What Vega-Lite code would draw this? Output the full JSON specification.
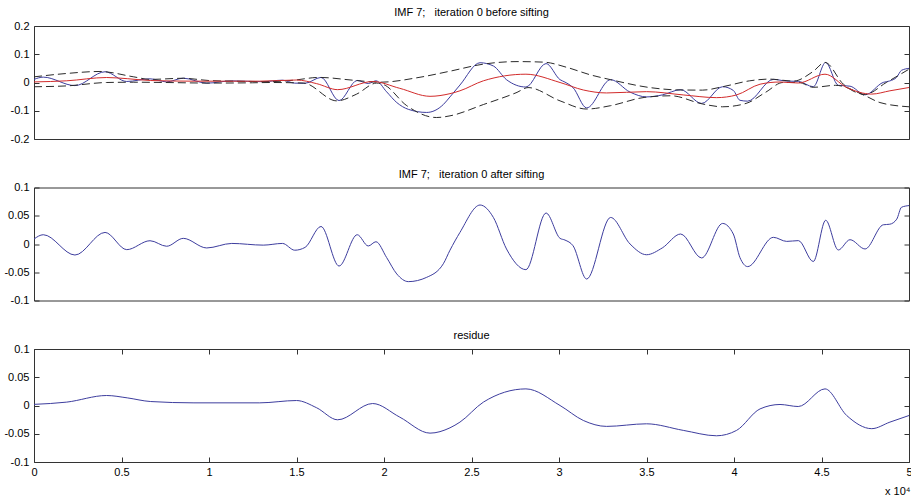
{
  "$schema": "https://vega.github.io/schema/vega-lite/v6.json",
  "background": "white",
  "autosize": {"type": "pad"},
  "padding": {"left": 3, "top": 6, "right": 0, "bottom": 4},
  "config": {
    "font": "Liberation Sans",
    "view": {"stroke": "#333333", "strokeWidth": 1},
    "axis": {
      "domain": false,
      "ticks": false,
      "grid": true,
      "gridColor": "#333333",
      "gridOpacity": 1,
      "gridWidth": 1,
      "title": null,
      "labelFont": "Liberation Sans",
      "labelFontSize": 11,
      "labelColor": "#000000",
      "labelFlush": false,
      "labelOverlap": false
    },
    "axisY": {"gridDash": [5, 865, 5], "labelPadding": 5},
    "axisX": {"gridDash": [5, 103, 5], "labelPadding": 4},
    "title": {"font": "Liberation Sans", "fontSize": 11, "fontWeight": "normal", "color": "#000000", "offset": 2}
  },
  "datasets": {
    "signal": [
      {"t": 0, "v": 0.011}, {"t": 530, "v": 0.019}, {"t": 2340, "v": -0.011}, {"t": 4060, "v": 0.038},
      {"t": 5300, "v": 0.0036}, {"t": 6630, "v": 0.013}, {"t": 7580, "v": 0.0022}, {"t": 8530, "v": 0.0153},
      {"t": 9870, "v": -0.0023}, {"t": 11300, "v": 0.0057}, {"t": 13100, "v": 0.0028}, {"t": 14200, "v": 0.0082},
      {"t": 14900, "v": -0.0023}, {"t": 15490, "v": -0.0027}, {"t": 16400, "v": 0.018}, {"t": 17430, "v": -0.064},
      {"t": 18470, "v": 0.0072}, {"t": 19100, "v": -0.0035}, {"t": 19540, "v": 0.006}, {"t": 20150, "v": -0.033},
      {"t": 20730, "v": -0.071}, {"t": 21390, "v": -0.095}, {"t": 22440, "v": -0.106}, {"t": 23390, "v": -0.078},
      {"t": 23770, "v": -0.051}, {"t": 24340, "v": -0.009}, {"t": 25490, "v": 0.07}, {"t": 26250, "v": 0.0585},
      {"t": 27000, "v": 0.0099}, {"t": 28110, "v": -0.016}, {"t": 29260, "v": 0.067}, {"t": 30060, "v": 0.01},
      {"t": 30340, "v": 0.0014}, {"t": 30800, "v": -0.018}, {"t": 31580, "v": -0.09}, {"t": 32950, "v": 0.01},
      {"t": 34060, "v": -0.034}, {"t": 35000, "v": -0.051}, {"t": 35900, "v": -0.044}, {"t": 36950, "v": -0.0255},
      {"t": 38150, "v": -0.074}, {"t": 39350, "v": -0.015}, {"t": 39960, "v": -0.028}, {"t": 40340, "v": -0.063},
      {"t": 40780, "v": -0.066}, {"t": 42250, "v": 0.011}, {"t": 43010, "v": 0.005}, {"t": 43680, "v": 0.004},
      {"t": 44530, "v": -0.015}, {"t": 45240, "v": 0.071}, {"t": 45960, "v": -0.01}, {"t": 46630, "v": -0.013},
      {"t": 47490, "v": -0.0436}, {"t": 48530, "v": 0.0004}, {"t": 48900, "v": 0.0055}, {"t": 49300, "v": 0.019},
      {"t": 49570, "v": 0.043}, {"t": 50000, "v": 0.05}
    ],
    "upper": [
      {"t": 0, "v": 0.02}, {"t": 1870, "v": 0.032}, {"t": 3770, "v": 0.039}, {"t": 5700, "v": 0.02},
      {"t": 6630, "v": 0.011}, {"t": 8530, "v": 0.015}, {"t": 10000, "v": 0.007}, {"t": 12000, "v": 0.004},
      {"t": 13500, "v": 0.003}, {"t": 14800, "v": 0.008}, {"t": 16300, "v": 0.018}, {"t": 18250, "v": 0.008},
      {"t": 19770, "v": 0.001}, {"t": 22000, "v": 0.018}, {"t": 23770, "v": 0.04}, {"t": 25680, "v": 0.065},
      {"t": 27600, "v": 0.074}, {"t": 29140, "v": 0.072}, {"t": 30480, "v": 0.053}, {"t": 31800, "v": 0.027},
      {"t": 32950, "v": 0.01}, {"t": 35200, "v": -0.018}, {"t": 36700, "v": -0.026}, {"t": 38200, "v": -0.027},
      {"t": 39350, "v": -0.015}, {"t": 40900, "v": 0.006}, {"t": 42000, "v": 0.012}, {"t": 43400, "v": 0.005},
      {"t": 44500, "v": 0.038}, {"t": 45200, "v": 0.071}, {"t": 46250, "v": -0.006}, {"t": 47500, "v": -0.042},
      {"t": 48700, "v": 0.0}, {"t": 50000, "v": 0.047}
    ],
    "lower": [
      {"t": 0, "v": -0.015}, {"t": 1870, "v": -0.012}, {"t": 4150, "v": 0.0}, {"t": 5700, "v": 0.001},
      {"t": 7500, "v": 0.0}, {"t": 10000, "v": -0.002}, {"t": 12500, "v": -0.001}, {"t": 13500, "v": 0.0},
      {"t": 15400, "v": -0.002}, {"t": 17300, "v": -0.065}, {"t": 18440, "v": -0.041}, {"t": 19580, "v": -0.002},
      {"t": 20000, "v": -0.008}, {"t": 21300, "v": -0.082}, {"t": 23000, "v": -0.124}, {"t": 23770, "v": -0.118},
      {"t": 25680, "v": -0.078}, {"t": 27600, "v": -0.035}, {"t": 28230, "v": -0.018}, {"t": 30060, "v": -0.065},
      {"t": 31580, "v": -0.094}, {"t": 32950, "v": -0.082}, {"t": 34860, "v": -0.053}, {"t": 36400, "v": -0.047},
      {"t": 38200, "v": -0.076}, {"t": 39350, "v": -0.086}, {"t": 40690, "v": -0.074}, {"t": 41800, "v": -0.035},
      {"t": 42800, "v": 0.0}, {"t": 43700, "v": 0.0}, {"t": 44530, "v": -0.017}, {"t": 45800, "v": -0.01},
      {"t": 47500, "v": -0.047}, {"t": 48340, "v": -0.071}, {"t": 50000, "v": -0.086}
    ],
    "imf": [
      {"t": 0, "v": 0.0088}, {"t": 530, "v": 0.0164}, {"t": 2340, "v": -0.0195}, {"t": 4060, "v": 0.0205},
      {"t": 5300, "v": -0.01}, {"t": 6630, "v": 0.0058}, {"t": 7580, "v": -0.004}, {"t": 8530, "v": 0.01},
      {"t": 9870, "v": -0.007}, {"t": 11300, "v": 0.001}, {"t": 13100, "v": -0.002}, {"t": 14200, "v": 0.001},
      {"t": 14900, "v": -0.011}, {"t": 15490, "v": -0.006}, {"t": 16400, "v": 0.031}, {"t": 17430, "v": -0.039},
      {"t": 18470, "v": 0.0164}, {"t": 19100, "v": -0.0035}, {"t": 19540, "v": 0.004}, {"t": 20150, "v": -0.024},
      {"t": 20730, "v": -0.053}, {"t": 21390, "v": -0.0666}, {"t": 22440, "v": -0.059}, {"t": 23390, "v": -0.035},
      {"t": 23770, "v": -0.011}, {"t": 24340, "v": 0.0205}, {"t": 25490, "v": 0.069}, {"t": 26250, "v": 0.047},
      {"t": 27000, "v": -0.0088}, {"t": 28110, "v": -0.0454}, {"t": 29260, "v": 0.0548}, {"t": 30060, "v": 0.01},
      {"t": 30340, "v": 0.007}, {"t": 30800, "v": -0.003}, {"t": 31580, "v": -0.062}, {"t": 32950, "v": 0.047},
      {"t": 34060, "v": 0.0}, {"t": 35000, "v": -0.019}, {"t": 35900, "v": -0.007}, {"t": 36950, "v": 0.0177},
      {"t": 38150, "v": -0.0247}, {"t": 39350, "v": 0.0364}, {"t": 39960, "v": 0.0177}, {"t": 40340, "v": -0.024},
      {"t": 40780, "v": -0.04}, {"t": 42250, "v": 0.0118}, {"t": 43010, "v": 0.0046}, {"t": 43680, "v": 0.006},
      {"t": 44530, "v": -0.031}, {"t": 45240, "v": 0.042}, {"t": 45960, "v": -0.0106}, {"t": 46630, "v": 0.0076},
      {"t": 47490, "v": -0.0088}, {"t": 48530, "v": 0.034}, {"t": 48900, "v": 0.035}, {"t": 49300, "v": 0.044},
      {"t": 49570, "v": 0.065}, {"t": 50000, "v": 0.068}
    ],
    "residue": [
      {"t": 0, "v": 0.002}, {"t": 1870, "v": 0.006}, {"t": 4150, "v": 0.0177}, {"t": 5330, "v": 0.0135},
      {"t": 6670, "v": 0.007}, {"t": 9140, "v": 0.0047}, {"t": 12900, "v": 0.0047}, {"t": 15000, "v": 0.0088},
      {"t": 16150, "v": -0.004}, {"t": 17350, "v": -0.0253}, {"t": 19350, "v": 0.0035}, {"t": 20900, "v": -0.0206},
      {"t": 22630, "v": -0.0489}, {"t": 23770, "v": -0.0395}, {"t": 24340, "v": -0.0294}, {"t": 25680, "v": 0.006},
      {"t": 28110, "v": 0.0294}, {"t": 30060, "v": 0.0}, {"t": 31390, "v": -0.0265}, {"t": 32720, "v": -0.037},
      {"t": 35000, "v": -0.0324}, {"t": 37100, "v": -0.044}, {"t": 39000, "v": -0.0536}, {"t": 40150, "v": -0.044},
      {"t": 41490, "v": -0.006}, {"t": 42630, "v": 0.0018}, {"t": 43670, "v": -0.0018}, {"t": 45200, "v": 0.0294},
      {"t": 46440, "v": -0.0177}, {"t": 47870, "v": -0.041}, {"t": 48910, "v": -0.0294}, {"t": 50000, "v": -0.0177}
    ]
  },
  "vconcat": [
    {
      "width": 875,
      "height": 113,
      "title": {"text": "IMF 7;\u00a0\u00a0\u00a0iteration 0 before sifting"},
      "encoding": {
        "x": {"field": "t", "type": "quantitative", "scale": {"domain": [0, 50000], "nice": false}, "axis": null},
        "y": {"field": "v", "type": "quantitative", "scale": {"domain": [-0.2, 0.2], "nice": false},
              "axis": {"orient": "left", "values": [-0.2, -0.1, 0, 0.1, 0.2], "labelExpr": "'' + datum.value"}}
      },
      "layer": [
        {
          "data": {"name": "signal"},
          "mark": {"type": "line", "color": "#3d3d9e", "strokeWidth": 1, "interpolate": "monotone"}
        },
        {
          "data": {"name": "upper"},
          "mark": {"type": "line", "color": "#2a2a2a", "strokeWidth": 1, "strokeDash": [8, 4], "interpolate": "monotone"}
        },
        {
          "data": {"name": "lower"},
          "mark": {"type": "line", "color": "#2a2a2a", "strokeWidth": 1, "strokeDash": [8, 4], "interpolate": "monotone"}
        },
        {
          "data": {"name": "residue"},
          "mark": {"type": "line", "color": "#d22b2b", "strokeWidth": 1, "interpolate": "monotone"}
        }
      ]
    },
    {
      "width": 875,
      "height": 113,
      "title": {"text": "IMF 7;\u00a0\u00a0\u00a0iteration 0 after sifting"},
      "data": {"name": "imf"},
      "mark": {"type": "line", "color": "#3d3d9e", "strokeWidth": 1, "interpolate": "monotone"},
      "encoding": {
        "x": {"field": "t", "type": "quantitative", "scale": {"domain": [0, 50000], "nice": false}, "axis": null},
        "y": {"field": "v", "type": "quantitative", "scale": {"domain": [-0.1, 0.1], "nice": false},
              "axis": {"orient": "left", "values": [-0.1, -0.05, 0, 0.05, 0.1], "labelExpr": "'' + datum.value"}}
      }
    },
    {
      "width": 875,
      "height": 113,
      "title": {"text": "residue"},
      "data": {"name": "residue"},
      "mark": {"type": "line", "color": "#3d3d9e", "strokeWidth": 1, "interpolate": "monotone"},
      "encoding": {
        "x": {"field": "t", "type": "quantitative", "scale": {"domain": [0, 50000], "nice": false},
              "axis": {"orient": "bottom", "title": "x 10\u2074", "titleAnchor": "end", "titleAlign": "right", "titleX": 876, "titleFontSize": 11, "titleFontWeight": "normal", "titleColor": "#000000", "titlePadding": 8,
                       "values": [0, 5000, 10000, 15000, 20000, 25000, 30000, 35000, 40000, 45000, 50000],
                       "labelExpr": "'' + datum.value / 10000"}},
        "y": {"field": "v", "type": "quantitative", "scale": {"domain": [-0.1, 0.1], "nice": false},
              "axis": {"orient": "left", "values": [-0.1, -0.05, 0, 0.05, 0.1], "labelExpr": "'' + datum.value"}}
      }
    }
  ],
  "spacing": 48.5,
  "bounds": "flush"
}
